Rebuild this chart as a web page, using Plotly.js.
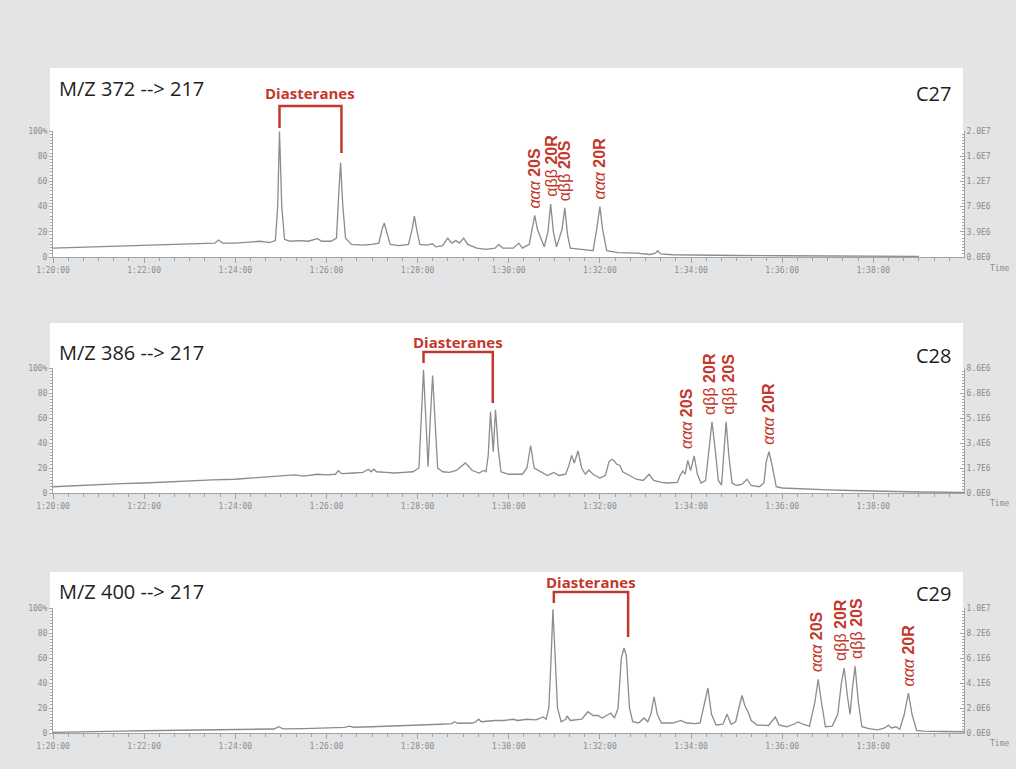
<!DOCTYPE html>
<html>
<head>
<meta charset="utf-8">
<script src="https://cdn.plot.ly/plotly-3.0.1.min.js"></script>
<style>html,body{margin:0;padding:0;background:#e3e4e5;}#chart{width:1016px;height:769px;}</style>
</head>
<body>
<div id="chart"></div>
<script>
// ---------- data (time in minutes, relative abundance in %) ----------
const c27Time = [80.0,80.5,81.0,81.5,82.0,82.5,83.0,83.4,83.55,83.63,83.72,84.0,84.3,84.55,84.65,84.75,84.88,84.93,84.97,85.02,85.08,85.2,85.4,85.6,85.8,85.9,86.1,86.22,86.27,86.31,86.36,86.42,86.55,86.8,87.0,87.15,87.22,87.27,87.32,87.4,87.6,87.8,87.88,87.93,87.98,88.05,88.2,88.33,88.4,88.55,88.66,88.75,88.84,88.92,89.01,89.1,89.3,89.5,89.7,89.78,89.87,90.1,90.22,90.3,90.45,90.52,90.57,90.63,90.7,90.78,90.86,90.92,90.98,91.05,91.17,91.23,91.29,91.35,91.6,91.85,91.93,92.0,92.06,92.15,92.4,92.8,93.1,93.22,93.27,93.33,93.6,94.0,95.0,96.0,97.0,98.0,99.0];
const c27Signal = [7,7.5,8,8.5,9.5,9.5,10,10.5,11,13.5,11,11,11.5,12.5,12,11.5,13,40,99.5,40,14,12.5,13,12.5,14.5,12.5,12.5,15,50,75,40,15,10,9.5,10,11,22,27,20,10,9,10,22,32.5,22,10,9.5,10.5,8,9,15,11,13,11,15,10,7,6,7,10,7,7,11,7,10,25,33,22,15,8,20,42,20,8,22,39,18,7,6,5,22,40,22,5,3.5,3,2,3,5,2.5,1.8,1.5,1.2,1,0.8,0.6,0.5];

const c28Time = [80.0,80.5,81.0,81.5,82.0,82.5,83.0,83.5,84.0,84.5,85.0,85.3,85.5,85.8,86.0,86.2,86.26,86.33,86.6,86.8,86.92,86.98,87.04,87.1,87.3,87.5,87.7,87.9,88.03,88.08,88.13,88.18,88.23,88.28,88.33,88.38,88.44,88.55,88.7,88.85,89.05,89.2,89.35,89.45,89.5,89.55,89.6,89.66,89.71,89.77,89.83,90.0,90.3,90.4,90.48,90.56,90.7,90.85,90.99,91.1,91.25,91.32,91.38,91.44,91.52,91.6,91.68,91.76,91.85,92.0,92.12,92.2,92.26,92.31,92.37,92.44,92.5,92.6,92.8,92.95,93.08,93.18,93.35,93.5,93.7,93.76,93.82,93.87,93.93,93.99,94.07,94.14,94.22,94.32,94.4,94.46,94.53,94.6,94.67,94.72,94.77,94.83,94.9,95.0,95.12,95.23,95.32,95.5,95.6,95.65,95.71,95.78,95.87,96.0,96.5,97.0,97.5,98.0,98.5,99.0,99.99];
const c28Signal = [5,6,7,7.5,8,9,9.5,10.5,11,12.5,13.5,14.5,13.5,15,14.5,15,18,15.5,16,16.5,19,17,19,17,16.5,16,16.5,17,20,60,98.5,60,21,60,94,60,20,17,16.5,18,24,18,16,18,17,30,65,33,66.6,35,17,15,15,20,38,20,17,14,16.5,14,15,22,30,24,33.6,20,15,18.4,15,12,14,25,27,26,23,22,17,15,11,10,15,10,8.5,8,8.5,14,17.6,15,26,18,29.6,15,8,10,35,57,35,10,6.4,30,57,30,8,6,7,11,6,5,8,25,33,22,5,4,3,2.5,2,1.5,1,0.8,0.5];

const c29Time = [80.0,80.5,81.0,81.5,82.0,82.5,83.0,83.5,84.0,84.5,84.85,84.95,85.05,85.5,86.0,86.4,86.5,86.6,87.0,87.5,88.0,88.5,88.75,88.81,88.88,89.2,89.28,89.34,89.4,89.55,89.7,89.9,90.1,90.2,90.4,90.6,90.75,90.82,90.88,90.93,90.97,91.02,91.07,91.15,91.25,91.28,91.35,91.6,91.74,91.85,91.96,92.05,92.24,92.32,92.4,92.47,92.53,92.58,92.65,92.72,92.85,92.97,93.05,93.12,93.19,93.26,93.35,93.6,93.78,93.9,94.1,94.2,94.28,94.37,94.45,94.55,94.7,94.79,94.88,94.98,95.05,95.12,95.18,95.25,95.32,95.45,95.7,95.85,95.93,96.1,96.25,96.35,96.45,96.6,96.72,96.79,96.86,96.95,97.1,97.22,97.3,97.36,97.43,97.49,97.54,97.6,97.67,97.75,97.9,98.1,98.25,98.33,98.4,98.5,98.58,98.68,98.77,98.85,98.95,99.1,99.5,99.99];
const c29Signal = [0.5,1,1.2,1.5,1.8,2,2.2,2.5,2.8,3,3.2,5,3.3,3.5,4,4.5,5.5,4.6,5,5.5,6.4,7,7.5,9,7.8,8,9,11,9,9.5,10,10,11,10,11,10.5,12.8,11,20,60,99,60,20,9,11,13.6,10,11,17,14,14,12,16,12,20,60,68,62,20,9,8,12,9,15,29,15,8,8,10,8,7.5,8,20,36,15,6.4,7,15,7,9,20,30,22,17,10,6.4,6,12.8,6.5,5,7,8.8,7,5.5,25,43,25,5,5.5,15,40,52,30,15,35,53.6,25,5,3.5,2.5,4,6.4,4,5,3,15,32,15,2,1.5,1.2,1];

// axis tick labels
const timeTickVals = ['80','82','84','86','88','90','92','94','96','98'];
const timeTickText = ['1:20:00','1:22:00','1:24:00','1:26:00','1:28:00','1:30:00','1:32:00','1:34:00','1:36:00','1:38:00'];
const pctTickVals = ['0','20','40','60','80','100'];
const pctTickText = ['0','20','40','60','80','100%'];
const c27AbsText = ['0.0E0','3.9E6','7.9E6','1.2E7','1.6E7','2.0E7'];
const c28AbsText = ['0.0E0','1.7E6','3.4E6','5.1E6','6.8E6','8.6E6'];
const c29AbsText = ['0.0E0','2.0E6','4.1E6','6.1E6','8.2E6','1.0E7'];

// labels
const transitionLabels = ['M/Z 372 --> 217','M/Z 386 --> 217','M/Z 400 --> 217'];
const carbonLabels = ['C27','C28','C29'];
const diasteraneLabel = 'Diasteranes';
const diasteraneTimes = [[84.97,86.33],[88.13,89.65],[90.99,92.62]];
const steraneNames = ['<i>ααα</i> <b>20S</b>','αββ <b>20R</b>','αββ <b>20S</b>','<i>ααα</i> <b>20R</b>'];
const c27SteraneTimes = [90.57,90.92,91.23,92.0];
const c27SteraneHeights = [33,42,39,40];
const c28SteraneTimes = [93.9,94.4,94.82,95.71];
const c28SteraneHeights = [29.6,57,57,33];
const c29SteraneTimes = [96.75,97.27,97.63,98.77];
const c29SteraneHeights = [43,52,53.6,32];

// ---------- layout helpers (pixel -> paper) ----------
const W = 1016, H = 769;
const px = p => p / W;
const py = p => 1 - p / H;
const RED = '#c4372b';
const AXC = '#a3a3a3';
const TICKFONT = {family:'DejaVu Sans Mono, monospace', size:8, color:'#8c8c8c'};
const alias = (keys, texts) => Object.fromEntries(keys.map((k, j) => [k, texts[j]]));

const panels = [
  {top:68, yTop:131, yBot:257, bot:258, titleY:88, cY:93, diaY:93, brTop:106, legL:128, legR:153, timeY:269},
  {top:323, yTop:368, yBot:493, bot:494, titleY:352, cY:355, diaY:342, brTop:352, legL:363, legR:403, timeY:503},
  {top:572, yTop:608, yBot:733, bot:734, titleY:591, cY:593, diaY:582, brTop:592, legL:603, legR:637, timeY:743}
];
const series = [[c27Time,c27Signal],[c28Time,c28Signal],[c29Time,c29Signal]];
const absTexts = [c27AbsText,c28AbsText,c29AbsText];
const stTimes = [c27SteraneTimes,c28SteraneTimes,c29SteraneTimes];
const stHeights = [c27SteraneHeights,c28SteraneHeights,c29SteraneHeights];

const traces = [];
const layout = {
  width:W, height:H, autosize:false,
  margin:{l:0,r:0,t:0,b:0,pad:0},
  paper_bgcolor:'#e3e4e5', plot_bgcolor:'#ffffff',
  showlegend:false, hovermode:false,
  shapes:[], annotations:[]
};

panels.forEach((p, i) => {
  const n = i + 1;
  const xName = n === 1 ? 'x' : 'x' + n;
  const yName = n === 1 ? 'y' : 'y' + n;
  const yRName = 'y' + (n + 3);
  const xKey = n === 1 ? 'xaxis' : 'xaxis' + n;
  const yKey = n === 1 ? 'yaxis' : 'yaxis' + n;
  const yRKey = 'yaxis' + (n + 3);
  const dom = [py(p.yBot), py(p.yTop)];

  traces.push({
    type:'scatter', mode:'lines', x:series[i][0], y:series[i][1],
    xaxis:xName, yaxis:yName, line:{color:'#8e8b88', width:1.3}, hoverinfo:'skip'
  });
  traces.push({type:'scatter', mode:'lines', x:[], y:[], xaxis:xName, yaxis:yRName, hoverinfo:'skip'});

  layout[xKey] = {
    domain:[px(53), px(964)], anchor:yName, range:[80,99.99],
    tickmode:'linear', tick0:80, dtick:2, labelalias:alias(timeTickVals, timeTickText),
    showline:true, linecolor:AXC, linewidth:1, ticks:'outside', ticklen:5, tickcolor:AXC, tickwidth:1,
    tickfont:TICKFONT, showgrid:false, zeroline:false, fixedrange:true,
    minor:{tickmode:'linear', tick0:80, dtick:1/3, ticks:'outside', ticklen:3, tickcolor:AXC, tickwidth:1, showgrid:false}
  };
  layout[yKey] = {
    domain:dom, anchor:xName, range:[0,100],
    tickmode:'linear', tick0:0, dtick:20, labelalias:alias(pctTickVals, pctTickText),
    showline:true, linecolor:AXC, linewidth:1, ticks:'outside', ticklen:3, tickcolor:AXC,
    tickfont:TICKFONT, showgrid:false, zeroline:false, fixedrange:true,
    minor:{tickmode:'linear', tick0:0, dtick:2.5, ticks:'outside', ticklen:2, tickcolor:AXC, showgrid:false}
  };
  layout[yRKey] = {
    overlaying:yName, anchor:xName, side:'right', range:[0,100],
    tickmode:'linear', tick0:0, dtick:20, labelalias:alias(pctTickVals, absTexts[i]),
    showline:true, linecolor:AXC, linewidth:1, ticks:'inside', ticklen:4, tickcolor:AXC,
    tickfont:TICKFONT, showgrid:false, zeroline:false, fixedrange:true,
    minor:{tickmode:'linear', tick0:0, dtick:2.5, ticks:'inside', ticklen:2, tickcolor:AXC, showgrid:false}
  };

  // white panel
  layout.shapes.push({type:'rect', xref:'paper', yref:'paper', layer:'below',
    x0:px(50), x1:px(963), y0:py(p.bot), y1:py(p.top), fillcolor:'#ffffff', line:{width:0}});

  // diasterane bracket
  const t0 = diasteraneTimes[i][0], t1 = diasteraneTimes[i][1];
  layout.shapes.push({type:'path', xref:xName, yref:'paper', layer:'above',
    path:`M ${t0},${py(p.legL)} L ${t0},${py(p.brTop)} L ${t1},${py(p.brTop)} L ${t1},${py(p.legR)}`,
    line:{color:RED, width:2.5}});
  layout.annotations.push({xref:xName, yref:'paper', x:(t0+t1)/2, y:py(p.diaY),
    text:'<b>'+diasteraneLabel+'</b>', showarrow:false, xanchor:'center', yanchor:'middle',
    font:{family:'Open Sans, sans-serif', size:15, color:RED}});

  // titles
  layout.annotations.push({xref:'paper', yref:'paper', x:px(57), y:py(p.titleY), text:transitionLabels[i],
    showarrow:false, xanchor:'left', yanchor:'middle', font:{family:'Open Sans, sans-serif', size:20, color:'#1e1e1e'}});
  layout.annotations.push({xref:'paper', yref:'paper', x:px(953), y:py(p.cY), text:carbonLabels[i],
    showarrow:false, xanchor:'right', yanchor:'middle', font:{family:'Open Sans, sans-serif', size:20, color:'#1e1e1e'}});
  layout.annotations.push({xref:'paper', yref:'paper', x:px(999), y:py(p.timeY), text:'Time',
    showarrow:false, xanchor:'center', yanchor:'middle', font:TICKFONT});

  // sterane peak labels
  stTimes[i].forEach((t, k) => {
    layout.annotations.push({xref:xName, yref:yName, x:t, y:stHeights[i][k], text:steraneNames[k],
      textangle:-90, showarrow:false, xanchor:'center', yanchor:'bottom', yshift:5,
      font:{family:'Liberation Sans, Arial, sans-serif', size:16, color:RED}});
  });
});

Plotly.newPlot('chart', traces, layout, {staticPlot:true, displayModeBar:false});
</script>
</body>
</html>
